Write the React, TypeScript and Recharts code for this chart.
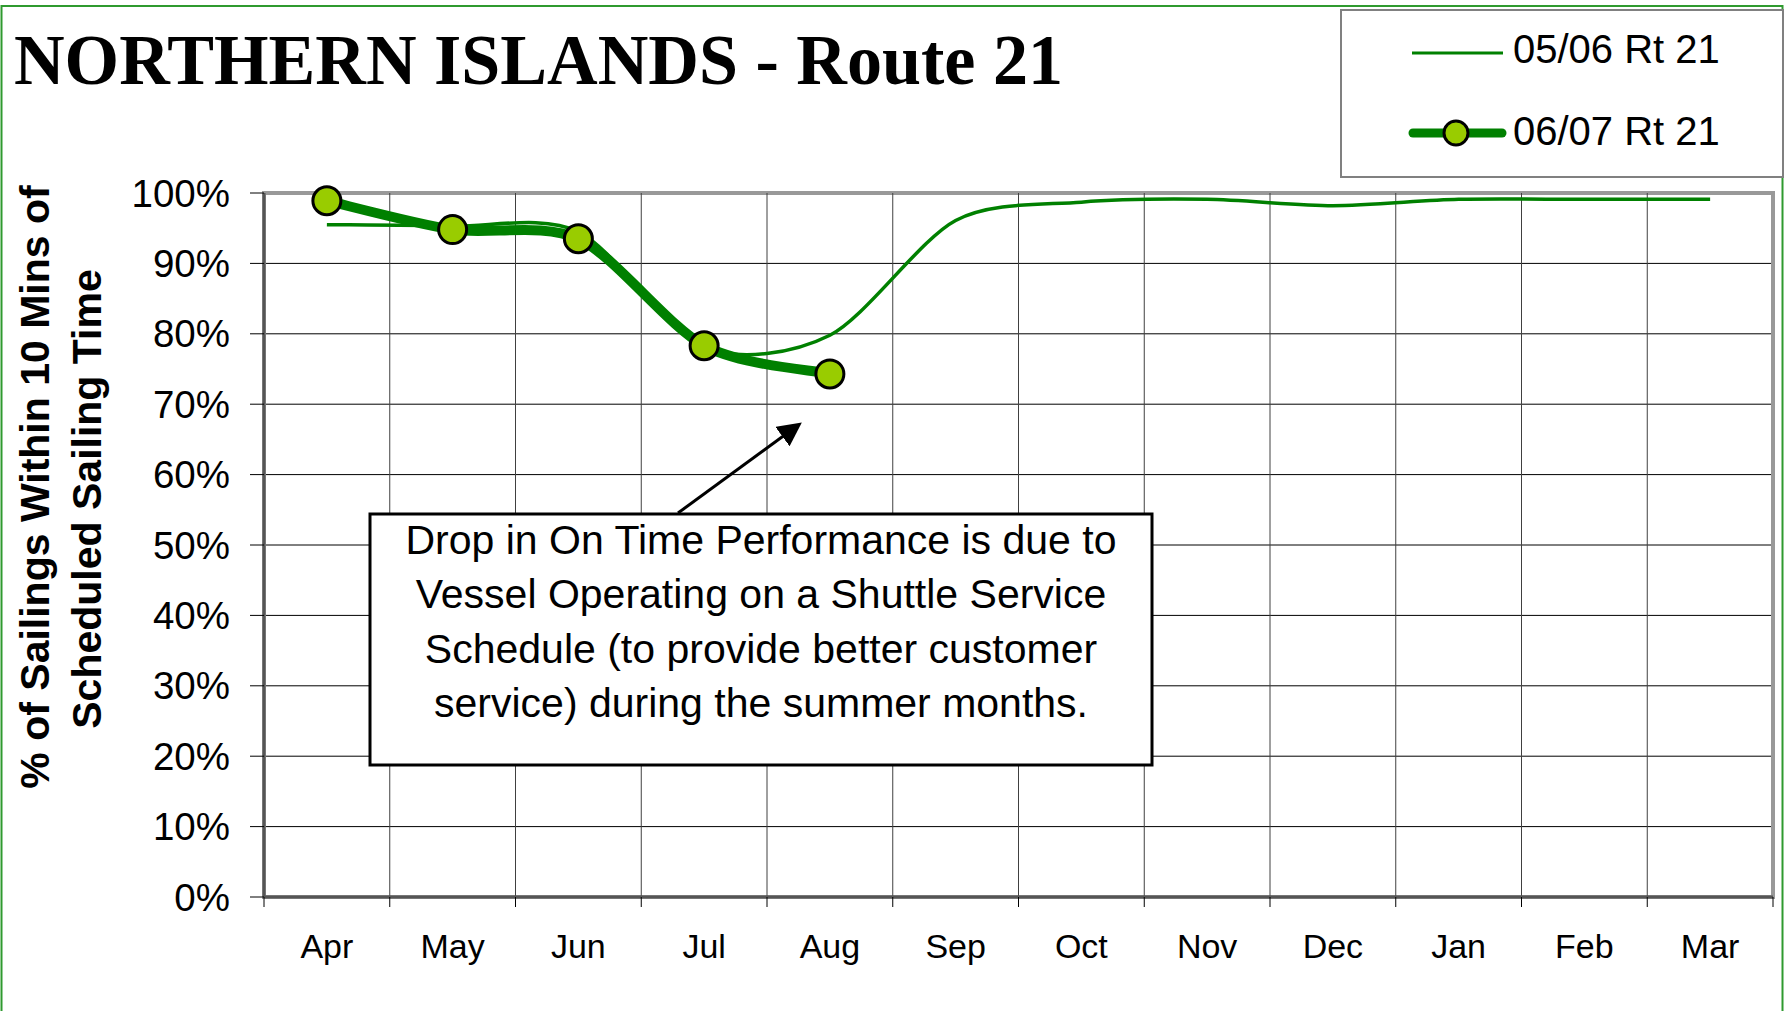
import React from 'react';
import {
  LineChart,
  Line,
  XAxis,
  YAxis,
  CartesianGrid,
  ReferenceLine,
  ReferenceArea,
} from 'recharts';

const months = ['Apr', 'May', 'Jun', 'Jul', 'Aug', 'Sep', 'Oct', 'Nov', 'Dec', 'Jan', 'Feb', 'Mar'];
const rt21_0506 = [0.955, 0.953, 0.945, 0.781, 0.798, 0.961, 0.987, 0.991, 0.982, 0.991, 0.991, 0.991];
const rt21_0607 = [0.989, 0.948, 0.935, 0.783, 0.743, null, null, null, null, null, null, null];
const yTicks = [0, 0.1, 0.2, 0.3, 0.4, 0.5, 0.6, 0.7, 0.8, 0.9, 1];
const seriesNames = ['05/06 Rt 21', '06/07 Rt 21'];
const titleText = 'NORTHERN ISLANDS - Route 21';
const yTitleLines = ['% of Sailings Within 10 Mins of', 'Scheduled Sailing Time'];
const noteLines = [
  'Drop in On Time Performance is due to',
  'Vessel Operating on a Shuttle Service',
  'Schedule (to provide better customer',
  'service) during the summer months.',
];

const data = months.map((m, i) => ({ month: m, prev: rt21_0506[i], curr: rt21_0607[i] }));

const W = 1790;
const H = 1011;
const SANS = '"Liberation Sans", Arial, sans-serif';
const GREEN = '#008000';
const X_TICK_SIZE = 10;
const X_TICK_MARGIN = 27;
const SMOOTH = 1 / 7;

// smoothed line similar to Excel's "smoothed line" option (cardinal style beziers)
function excelSmooth(context: any) {
  let pts: number[][] = [];
  return {
    areaStart() {},
    areaEnd() {},
    lineStart() {
      pts = [];
    },
    lineEnd() {
      const n = pts.length;
      if (!n) return;
      context.moveTo(pts[0][0], pts[0][1]);
      for (let i = 0; i < n - 1; i++) {
        const p0 = pts[Math.max(i - 1, 0)];
        const p1 = pts[i];
        const p2 = pts[i + 1];
        const p3 = pts[Math.min(i + 2, n - 1)];
        context.bezierCurveTo(
          p1[0] + (p2[0] - p0[0]) * SMOOTH,
          p1[1] + (p2[1] - p0[1]) * SMOOTH,
          p2[0] - (p3[0] - p1[0]) * SMOOTH,
          p2[1] - (p3[1] - p1[1]) * SMOOTH,
          p2[0],
          p2[1]
        );
      }
    },
    point(x: number, y: number) {
      pts.push([+x, +y]);
    },
  };
}

const MonthTick = (props: any) => {
  const { x, y, payload, index, width } = props;
  const half = payload && payload.offset > 1 ? payload.offset : width / months.length / 2;
  const axisY = y - X_TICK_SIZE - X_TICK_MARGIN;
  return (
    <g>
      <line x1={x - half} x2={x - half} y1={axisY} y2={axisY + X_TICK_SIZE} stroke="#000" strokeWidth={1} />
      {index === months.length - 1 && (
        <line x1={x + half} x2={x + half} y1={axisY} y2={axisY + X_TICK_SIZE} stroke="#000" strokeWidth={1} />
      )}
      <text x={x} y={y} dy="0.71em" textAnchor="middle" fontSize={34} fontFamily={SANS} fill="#000">
        {payload.value}
      </text>
    </g>
  );
};

const Overlay = () => (
  <svg
    width={W}
    height={H}
    style={{ position: 'absolute', left: 0, top: 0, pointerEvents: 'none' }}
  >
    <defs>
      <marker id="arrowHead" markerWidth="8" markerHeight="8" refX="6" refY="4" orient="auto" markerUnits="strokeWidth">
        <path d="M0,0 L8,4 L0,8 z" fill="#000" />
      </marker>
    </defs>
    <rect x={1.5} y={6} width={1781} height={1020} fill="none" stroke="#2f9a2f" strokeWidth={2} />

    <text
      x={14}
      y={84}
      fontFamily='"Liberation Serif", "Times New Roman", serif'
      fontWeight="bold"
      fontSize={72}
      textLength={1049}
      lengthAdjust="spacingAndGlyphs"
      fill="#000"
    >
      {titleText}
    </text>

    {yTitleLines.map((t, i) => (
      <text
        key={t}
        x={i === 0 ? 49 : 101}
        y={i === 0 ? 487 : 499}
        transform={`rotate(-90 ${i === 0 ? 49 : 101} ${i === 0 ? 487 : 499})`}
        textAnchor="middle"
        fontFamily={SANS}
        fontWeight="bold"
        fontSize={41}
        fill="#000"
      >
        {t}
      </text>
    ))}

    {/* legend */}
    <rect x={1341} y={10} width={442} height={167} fill="#fff" stroke="#808080" strokeWidth={2} />
    <line x1={1412} x2={1503} y1={53} y2={53} stroke={GREEN} strokeWidth={3} />
    <text x={1513} y={63} fontFamily={SANS} fontSize={40} fill="#000">
      {seriesNames[0]}
    </text>
    <line x1={1413} x2={1502} y1={133} y2={133} stroke={GREEN} strokeWidth={9} strokeLinecap="round" />
    <circle cx={1456} cy={133} r={12} fill="#99CC00" stroke="#000" strokeWidth={3} />
    <text x={1513} y={145} fontFamily={SANS} fontSize={40} fill="#000">
      {seriesNames[1]}
    </text>

    {/* annotation */}
    <line x1={678} y1={513} x2={797} y2={426} stroke="#000" strokeWidth={3} markerEnd="url(#arrowHead)" />
    <rect x={370} y={514} width={782} height={251} fill="#fff" stroke="#000" strokeWidth={3} />
    {noteLines.map((t, i) => (
      <text key={t} x={761} y={554 + i * 54.3} textAnchor="middle" fontFamily={SANS} fontSize={41} fill="#000">
        {t}
      </text>
    ))}
  </svg>
);

export default function App() {
  return (
    <div style={{ position: 'absolute', left: 0, top: 0, width: W, height: H, background: '#fff' }}>
      <LineChart width={W} height={H} data={data} margin={{ top: 193, right: 17, bottom: 0, left: 0 }}>
        <CartesianGrid vertical={false} stroke="#000" strokeWidth={1} />
        {months.slice(1).map((m) => (
          <ReferenceLine key={m} x={m} position="start" stroke="#404040" strokeWidth={1} />
        ))}
        <ReferenceArea
          x1={months[0]}
          x2={months[months.length - 1]}
          y1={0}
          y2={1}
          fill="none"
          fillOpacity={0}
          stroke="#999"
          strokeWidth={4}
        />
        <XAxis
          dataKey="month"
          scale="band"
          height={114}
          interval={0}
          tickSize={X_TICK_SIZE}
          tickMargin={X_TICK_MARGIN}
          tickLine={false}
          axisLine={{ stroke: '#555', strokeWidth: 3 }}
          tick={<MonthTick />}
        />
        <YAxis
          type="number"
          domain={[0, 1]}
          ticks={yTicks}
          interval={0}
          width={264}
          tickSize={14}
          tickMargin={20}
          tickFormatter={(v: number) => `${Math.round(v * 100)}%`}
          tick={{ fontSize: 38.5, fill: '#000', fontFamily: SANS }}
          tickLine={{ stroke: '#000' }}
          axisLine={{ stroke: '#555', strokeWidth: 3 }}
        />
        <Line
          dataKey="prev"
          name={seriesNames[0]}
          type={excelSmooth as any}
          stroke={GREEN}
          strokeWidth={3.5}
          dot={false}
          isAnimationActive={false}
        />
        <Line
          dataKey="curr"
          name={seriesNames[1]}
          type={excelSmooth as any}
          stroke={GREEN}
          strokeWidth={10}
          dot={{ r: 14, fill: '#99CC00', stroke: '#000', strokeWidth: 3 }}
          isAnimationActive={false}
        />
      </LineChart>
      <Overlay />
    </div>
  );
}
